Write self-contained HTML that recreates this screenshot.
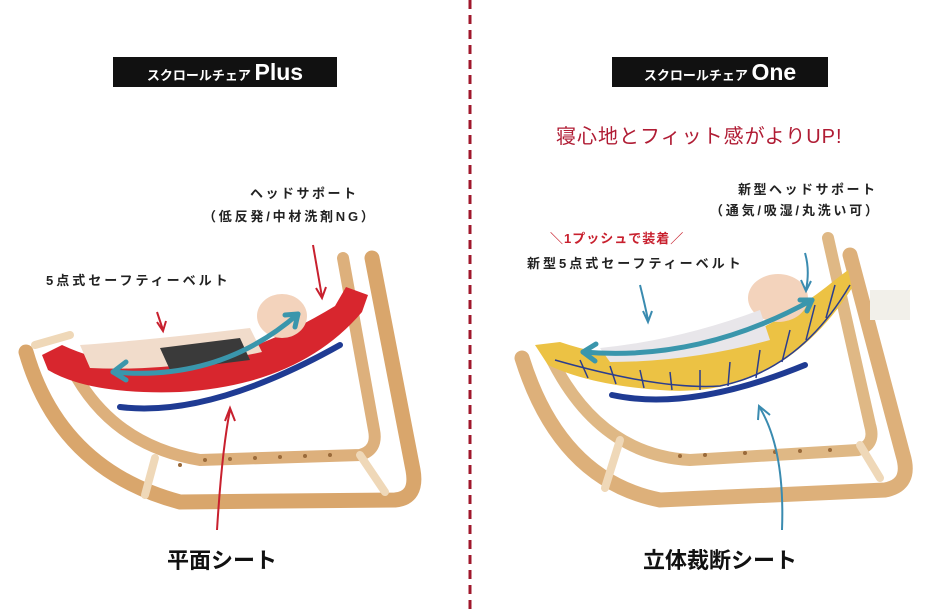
<!DOCTYPE html>
<html><head><meta charset="utf-8"><style>
html,body{margin:0;padding:0;background:#fff;}
body{width:940px;height:610px;position:relative;overflow:hidden;font-family:"Liberation Sans","Noto Sans CJK JP",sans-serif;}
.t{position:absolute;white-space:nowrap;font-weight:bold;}
.lab{background:#111;color:#fff;height:30px;line-height:30px;font-weight:bold;text-align:center;}
</style></head><body>
<svg width="940" height="610" style="position:absolute;left:0;top:0">
<line x1="470" y1="0" x2="470" y2="610" stroke="#a0182c" stroke-width="3" stroke-dasharray="9,6"/>
<!-- LEFT CHAIR -->
<g fill="none" stroke-linecap="round">
<path d="M26 352 Q60 470 180 502 L395 500 Q418 498 413 470 L372 258" stroke="#d9a66c" stroke-width="15"/>
<path d="M70 365 Q110 445 200 460 L360 455 Q378 450 374 430 L343 258" stroke="#ddb07c" stroke-width="12"/>
<line x1="155" y1="458" x2="145" y2="495" stroke="#efd8b8" stroke-width="8"/>
<line x1="360" y1="455" x2="385" y2="492" stroke="#efd8b8" stroke-width="8"/>
<line x1="35" y1="345" x2="70" y2="335" stroke="#efd8b8" stroke-width="8"/>
</g>
<g fill="#9a6a3a"><circle cx="180" cy="465" r="2"/><circle cx="205" cy="460" r="2"/><circle cx="230" cy="459" r="2"/><circle cx="255" cy="458" r="2"/><circle cx="280" cy="457" r="2"/><circle cx="305" cy="456" r="2"/><circle cx="330" cy="455" r="2"/></g>
<path d="M42 355 L62 345 Q180 400 335 306 L346 287 L368 295 L362 312 Q300 385 180 392 Q90 395 48 370 Z" fill="#d8262e"/>
<ellipse cx="282" cy="316" rx="25" ry="22" fill="#f3d3bc"/>
<path d="M80 345 Q150 340 250 328 L262 352 Q170 372 90 368 Z" fill="#f1dccb"/>
<path d="M160 348 L240 338 L250 360 L170 370 Z" fill="#3a3a3a"/>
<g fill="none" stroke="#3a96ac" stroke-width="5" stroke-linecap="round">
<path d="M113 372 Q220 382 298 314"/><path d="M113 372 L126 362 M113 372 L126 380"/>
<path d="M298 314 L285 315 M298 314 L295 327"/>
</g>
<path d="M120 407 Q210 418 340 345" fill="none" stroke="#1f3b93" stroke-width="6" stroke-linecap="round"/>
<g fill="none" stroke="#c8202e" stroke-width="2">
<path d="M217 530 Q222 450 230 410"/><path d="M225 421 L230 408 L235 421"/>
<path d="M313 245 L322 297"/><path d="M316 288 L322 298 L326 287"/>
<path d="M157 312 L163 330"/><path d="M157 322 L163 331 L166 321"/>
</g>
<!-- RIGHT CHAIR -->
<g fill="none" stroke-linecap="round">
<path d="M522 358 Q560 480 660 500 L885 490 Q912 485 903 455 L850 255" stroke="#ddb07a" stroke-width="15"/>
<path d="M552 360 Q600 455 690 460 L858 450 Q876 445 870 425 L828 238" stroke="#dfb885" stroke-width="12"/>
<line x1="620" y1="440" x2="605" y2="488" stroke="#efd8b8" stroke-width="8"/>
<line x1="860" y1="445" x2="880" y2="478" stroke="#efd8b8" stroke-width="8"/>
</g>
<g fill="#9a6a3a"><circle cx="680" cy="456" r="2"/><circle cx="705" cy="455" r="2"/><circle cx="745" cy="453" r="2"/><circle cx="775" cy="452" r="2"/><circle cx="800" cy="451" r="2"/><circle cx="830" cy="450" r="2"/></g>
<rect x="870" y="290" width="40" height="30" fill="#f2f0ea"/>
<path d="M535 345 L560 342 Q700 390 835 280 L848 270 L852 288 Q780 400 660 390 Q590 385 548 365 Z" fill="#ecc244"/>
<g stroke="#2a3d8f" stroke-width="1.5" fill="none">
<path d="M555 360 Q660 390 720 386 Q800 370 850 285"/>
<path d="M580 360 L588 378 M610 366 L616 384 M640 370 L644 388 M670 372 L672 390 M700 370 L700 390 M730 362 L728 386 M760 350 L756 378 M790 330 L782 362 M815 305 L806 340 M835 285 L826 318"/>
</g>
<ellipse cx="778" cy="298" rx="30" ry="24" fill="#f3d3bc"/>
<path d="M600 348 Q680 340 760 310 L770 340 Q690 362 610 362 Z" fill="#e8e6ea"/>
<g fill="none" stroke="#3a96ac" stroke-width="5" stroke-linecap="round">
<path d="M583 352 Q700 362 812 300"/><path d="M583 352 L596 344 M583 352 L595 361"/>
<path d="M812 300 L800 300 M812 300 L807 311"/>
</g>
<path d="M612 395 Q690 412 805 365" fill="none" stroke="#1f3b93" stroke-width="6" stroke-linecap="round"/>
<g fill="none" stroke="#3a8bb0" stroke-width="2">
<path d="M782 530 Q785 450 760 408"/><path d="M758 420 L759 406 L770 415"/>
<path d="M640 285 Q645 305 648 320"/><path d="M643 311 L648 322 L652 311"/>
<path d="M805 253 Q810 270 806 290"/><path d="M801 280 L806 291 L811 281"/>
</g>
</svg>
<div class="t lab" style="left:113px;top:57px;width:224px;font-size:13px">スクロールチェア <span style="font-size:23px">Plus</span></div>
<div class="t lab" style="left:612px;top:57px;width:216px;font-size:13px">スクロールチェア <span style="font-size:23px">One</span></div>
<div class="t" style="left:556px;top:120px;font-size:20px;color:#b01c34;font-weight:normal;letter-spacing:1px">寝心地とフィット感がよりUP!</div>
<div class="t" style="left:250px;top:183px;font-size:13px;color:#222;letter-spacing:2.5px">ヘッドサポート</div>
<div class="t" style="left:203px;top:206px;font-size:13px;color:#222;letter-spacing:2.8px">（低反発/中材洗剤NG）</div>
<div class="t" style="left:46px;top:270px;font-size:13px;color:#222;letter-spacing:3px">5点式セーフティーベルト</div>
<div class="t" style="left:738px;top:179px;font-size:13px;color:#222;letter-spacing:2.5px">新型ヘッドサポート</div>
<div class="t" style="left:710px;top:200px;font-size:13px;color:#222;letter-spacing:2.8px">（通気/吸湿/丸洗い可）</div>
<div class="t" style="left:550px;top:228px;font-size:13px;color:#c8202e;letter-spacing:1px">＼1プッシュで装着／</div>
<div class="t" style="left:527px;top:253px;font-size:13px;color:#222;letter-spacing:3px">新型5点式セーフティーベルト</div>
<div class="t" style="left:167px;top:543px;font-size:22px;color:#111">平面シート</div>
<div class="t" style="left:643px;top:543px;font-size:22px;color:#111">立体裁断シート</div>
</body></html>
